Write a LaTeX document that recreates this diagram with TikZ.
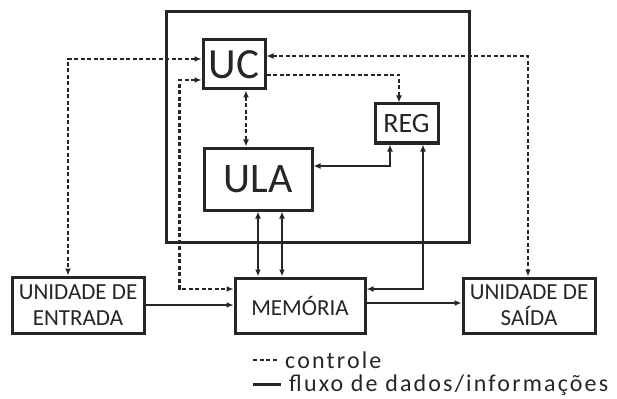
\documentclass[tikz,border=0pt]{standalone}
\usepackage{fontspec}
\setmainfont{Carlito}
\newfontfamily\legendfont[LetterSpace=9]{Carlito}
\usepackage{tikz}
\usetikzlibrary{arrows.meta,positioning,calc}

\begin{document}
\begin{tikzpicture}[
  x=1pt, y=-1pt,
  >={Latex[length=7pt,width=6pt]},
  unit/.style={draw=black!85, line width=3pt, inner sep=0pt, align=center,
    text=black!85, fill=white},
  big/.style={unit, font=\fontsize{43}{43}\selectfont},
  small/.style={unit, font=\fontsize{23}{26}\selectfont},
  ctrl/.style={draw=black!85, line width=2.9pt, dash pattern=on 4pt off 2.5pt},
  data/.style={draw=black!85, line width=2.9pt},
  legend/.style={font=\legendfont\fontsize{24}{24}\selectfont, text=black!85, inner sep=0pt}
]
  \useasboundingbox (0,0) rectangle (617,398);
  % CPU frame
  \draw[black!85, line width=3pt] (166,12) rectangle (469,242);

  \node[big, minimum width=62pt, minimum height=49pt] (UC) at (234,64.5) {UC};
  \node[unit, font=\fontsize{28}{28}\selectfont, minimum width=63pt, minimum height=39pt] (REG) at (406.5,123.5) {REG};
  \node[big, font=\fontsize{42}{42}\selectfont, minimum width=108pt, minimum height=62pt] (ULA) at (258,179) {ULA};
  \node[small, minimum width=130pt, minimum height=55pt] (MEM) at (300,305.5) {MEMÓRIA};
  \node[small, minimum width=132pt, minimum height=56pt] (ENT) at (78,305) {UNIDADE DE\\ENTRADA};
  \node[small, minimum width=132pt, minimum height=55pt] (SAI) at (529,305.5) {UNIDADE DE\\SAÍDA};

  % control
  \draw[ctrl, <->] ($(UC.west)+(0,-5.5)$) -| ($(ENT.north)+(-10,0)$);
  \draw[ctrl, <->] ($(UC.west)+(0,15.5)$) -| ($(MEM.west)+(-54,-16.5)$) -- ($(MEM.west)+(0,-16.5)$);
  \draw[ctrl, <->] ($(UC.east)+(0,-8.5)$) -| ($(SAI.north)+(-1,0)$);
  \draw[ctrl, ->] ($(UC.east)+(0,10.5)$) -| ($(REG.north)+(-7.5,0)$);
  \draw[ctrl, <->] ($(UC.south)+(12,0)$) -- ($(ULA.north)+(-12,0)$);

  % data
  \draw[data, <->] ($(ULA.east)+(0,-13)$) -| ($(REG.south)+(-16.5,0)$);
  \draw[data, <->] (ULA.south) -- ($(MEM.north)+(-42,0)$);
  \draw[data, <->] ($(ULA.south)+(24,0)$) -- ($(MEM.north)+(-18,0)$);
  \draw[data, <->] ($(REG.south)+(16.5,0)$) |- ($(MEM.east)+(0,-16.5)$);
  \draw[data, ->] (ENT.east) -- (ENT.east -| MEM.west);
  \draw[data, ->] ($(MEM.east)+(0,-2.5)$) -- ($(SAI.west)+(0,-2.5)$);

  % legend
  \node[legend, anchor=base west] (lgctrl) at (285,368) {controle};
  \node[legend, anchor=base west] (lgdata) at (289,391) {fluxo de dados/informações};
  \draw[ctrl, line width=2.2pt] ($(lgctrl.west)+(-32,0)$) -- ($(lgctrl.west)+(-8,0)$);
  \draw[data, line width=2.8pt] ($(lgdata.west)+(-36,0)$) -- ($(lgdata.west)+(-8,0)$);
\end{tikzpicture}
\end{document}
